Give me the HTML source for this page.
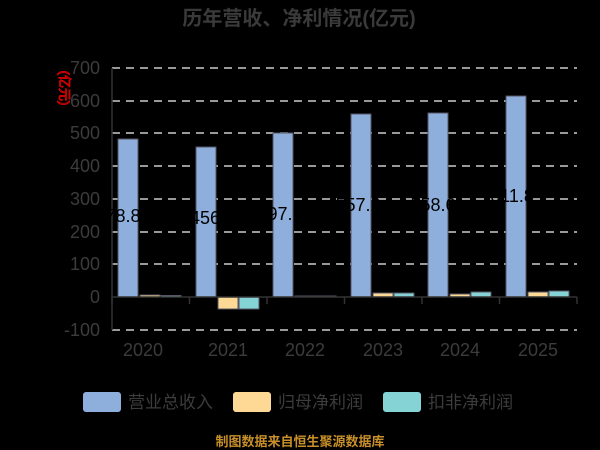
<!DOCTYPE html>
<html><head><meta charset="utf-8"><style>
body{margin:0;background:#000;width:600px;height:450px;overflow:hidden}
svg{display:block;font-family:"Liberation Sans","Noto Sans CJK SC",sans-serif}
</style></head><body>
<svg width="600" height="450" viewBox="0 0 600 450">
<text x="299" y="25" text-anchor="middle" font-size="20" font-weight="bold" fill="#3a3a3a">历年营收、净利情况(亿元)</text>
<g stroke="#ccc" stroke-width="1.5" stroke-dasharray="8,6">
<line x1="112" y1="68" x2="577" y2="68"/><line x1="112" y1="101" x2="577" y2="101"/>
<line x1="112" y1="133" x2="577" y2="133"/><line x1="112" y1="166" x2="577" y2="166"/>
<line x1="112" y1="199" x2="577" y2="199"/><line x1="112" y1="232" x2="577" y2="232"/>
<line x1="112" y1="264" x2="577" y2="264"/><line x1="112" y1="330" x2="577" y2="330"/>
</g>
<g font-size="18" fill="#3c3c3c" text-anchor="end">
<text x="100" y="74">700</text><text x="100" y="107">600</text><text x="100" y="139">500</text>
<text x="100" y="172">400</text><text x="100" y="205">300</text><text x="100" y="238">200</text>
<text x="100" y="270">100</text><text x="100" y="303">0</text><text x="100" y="336">-100</text>
</g>
<text transform="translate(60,88) rotate(90)" font-size="13" fill="none" stroke="#e00" stroke-width="0.8" text-anchor="middle">(亿元)</text>
<line x1="112" y1="68" x2="112" y2="330" stroke="#333" stroke-width="1.5"/>
<g stroke="#556" stroke-width="1">
<rect x="118" y="139" width="20" height="158" fill="#8eaedb"/>
<rect x="140" y="295" width="20" height="2" fill="#fdd995"/>
<rect x="161" y="295.5" width="20" height="1.5" fill="#86d3d6"/>
<rect x="196" y="147" width="20" height="150" fill="#8eaedb"/>
<rect x="218" y="297" width="20" height="12" fill="#fdd995"/>
<rect x="239" y="297" width="20" height="12" fill="#86d3d6"/>
<rect x="273" y="133" width="20" height="164" fill="#8eaedb"/>
<rect x="295" y="296" width="20" height="1" fill="#fdd995"/>
<rect x="316" y="296" width="20" height="1" fill="#86d3d6"/>
<rect x="351" y="114" width="20" height="183" fill="#8eaedb"/>
<rect x="373" y="293" width="20" height="4" fill="#fdd995"/>
<rect x="394" y="293" width="20" height="4" fill="#86d3d6"/>
<rect x="428" y="113" width="20" height="184" fill="#8eaedb"/>
<rect x="450" y="294" width="20" height="3" fill="#fdd995"/>
<rect x="471" y="292" width="20" height="5" fill="#86d3d6"/>
<rect x="506" y="96" width="20" height="201" fill="#8eaedb"/>
<rect x="528" y="292" width="20" height="5" fill="#fdd995"/>
<rect x="549" y="291" width="20" height="6" fill="#86d3d6"/>
</g>
<line x1="112" y1="297" x2="577" y2="297" stroke="#333" stroke-width="1.5"/>
<g stroke="#333" stroke-width="1.5">
<line x1="112" y1="297" x2="112" y2="304"/><line x1="189.5" y1="297" x2="189.5" y2="304"/>
<line x1="267" y1="297" x2="267" y2="304"/><line x1="344.5" y1="297" x2="344.5" y2="304"/>
<line x1="422" y1="297" x2="422" y2="304"/><line x1="499.5" y1="297" x2="499.5" y2="304"/>
<line x1="577" y1="297" x2="577" y2="304"/>
</g>
<g font-size="18" fill="#000" text-anchor="middle">
<text x="118" y="222">478.8</text><text x="205" y="224">456</text>
<text x="280" y="220">497.9</text><text x="358" y="211">557.2</text>
<text x="433" y="211">558.6</text><text x="512" y="202">611.8</text>
</g>
<g font-size="18" fill="#3c3c3c" text-anchor="middle">
<text x="143" y="356">2020</text><text x="228" y="356">2021</text><text x="305" y="356">2022</text>
<text x="383" y="356">2023</text><text x="460" y="356">2024</text><text x="538" y="356">2025</text>
</g>
<g font-size="17" fill="#3c3c3c">
<rect x="83" y="392" width="38" height="20" rx="3" fill="#8eaedb"/><text x="128" y="408">营业总收入</text>
<rect x="233" y="392" width="38" height="20" rx="3" fill="#fdd995"/><text x="278" y="408">归母净利润</text>
<rect x="383" y="392" width="38" height="20" rx="3" fill="#86d3d6"/><text x="428" y="408">扣非净利润</text>
</g>
<text x="300" y="446" text-anchor="middle" font-size="13" font-weight="bold" fill="#c8902a">制图数据来自恒生聚源数据库</text>
</svg>
</body></html>
